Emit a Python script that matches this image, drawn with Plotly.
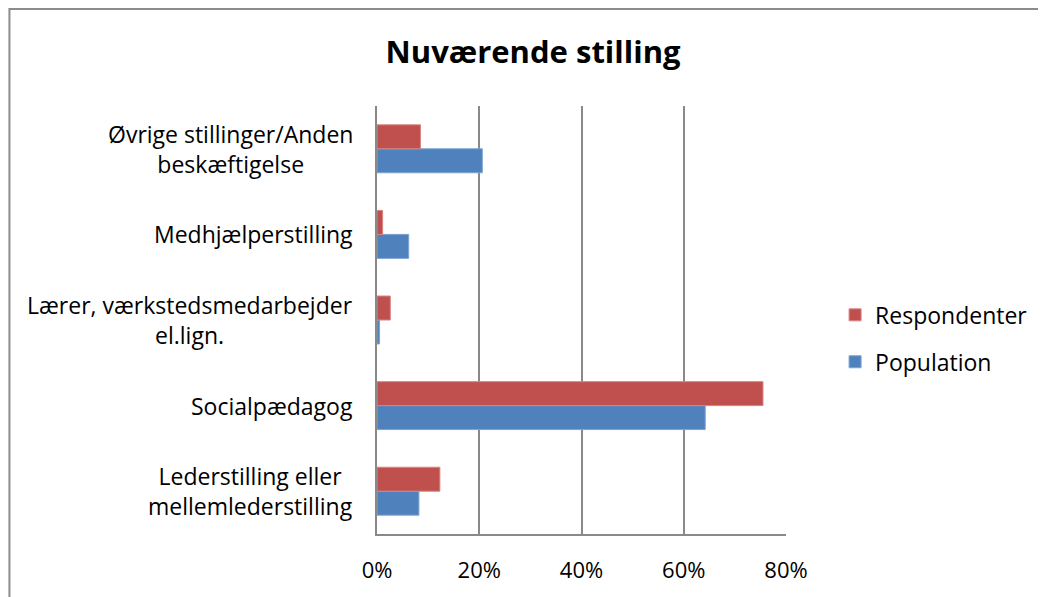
import plotly.graph_objects as go

# categories, bottom to top (plotly draws the first category at the bottom)
categories = [
    "Lederstilling eller<br>mellemlederstilling",
    "Socialpædagog",
    "Lærer, værkstedsmedarbejder<br>el.lign.",
    "Medhjælperstilling",
    "Øvrige stillinger/Anden<br>beskæftigelse",
]
population = [0.082, 0.642, 0.005, 0.062, 0.206]
respondenter = [0.123, 0.755, 0.026, 0.011, 0.085]
tick_vals = [0, 0.2, 0.4, 0.6, 0.8]
tick_text = ["0%", "20%", "40%", "60%", "80%"]

FONT = "Open Sans"
GRID = "#898989"

fig = go.Figure()
fig.add_trace(go.Bar(
    y=categories, x=population, orientation="h", name="Population",
    marker=dict(color="#4F81BD", line=dict(color="#7DA3D3", width=1)),
    legendgroup="p", legendrank=2,
))
fig.add_trace(go.Bar(
    y=categories, x=respondenter, orientation="h", name="Respondenter",
    marker=dict(color="#C0504D", line=dict(color="#D68482", width=1)),
    legendgroup="r", legendrank=1,
))

# category labels as centred multi-line text, right edge left of the axis
for c in categories:
    fig.add_annotation(
        x=0, xref="paper", y=c, yref="y", text=c, showarrow=False,
        xanchor="right", xshift=-22, align="center",
        font=dict(family=FONT, size=23, color="#000000"),
    )

# outer chart border
fig.add_shape(type="rect", xref="paper", yref="paper",
              x0=-0.8987, x1=1.75, y0=-0.25, y1=1.2266,
              line=dict(color="#8C8C8C", width=2), layer="below")

fig.update_layout(
    width=1046, height=597,
    margin=dict(l=369, r=268, t=98, b=71),
    paper_bgcolor="white", plot_bgcolor="white",
    barmode="group", bargap=0.44, bargroupgap=0,
    title=dict(text="<b>Nuværende stilling</b>", x=0.502, xanchor="center",
               y=0.926, yanchor="middle",
               font=dict(family=FONT, size=31, color="#000000")),
    legend=dict(x=1.12, y=0.457, xanchor="left", yanchor="middle",
                traceorder="grouped", tracegroupgap=14,
                font=dict(family=FONT, size=23, color="#000000"),
                itemwidth=30),
    font=dict(family=FONT, size=23, color="#000000"),
)
fig.update_xaxes(range=[0, 0.8], tickvals=tick_vals, ticktext=tick_text,
                 showgrid=True, gridcolor=GRID, gridwidth=1.5,
                 showline=True, linecolor=GRID, linewidth=1.5,
                 zeroline=False, ticks="", ticklabelstandoff=16,
                 tickfont=dict(family=FONT, size=22))
fig.update_yaxes(showticklabels=False, showline=True, linecolor=GRID,
                 linewidth=2, showgrid=False, ticks="")

fig.write_html("out.html")
